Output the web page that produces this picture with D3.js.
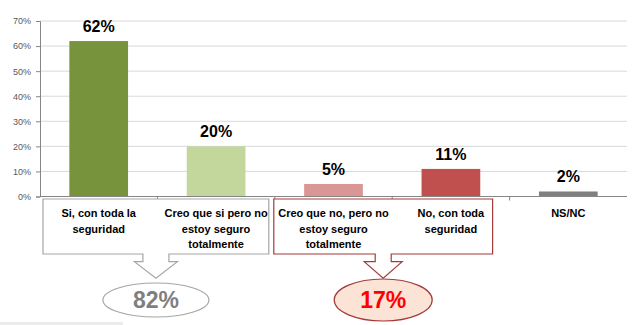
<!DOCTYPE html>
<html>
<head>
<meta charset="utf-8">
<script src="https://cdn.jsdelivr.net/npm/d3@7"></script>
<style>
  html, body { margin: 0; padding: 0; background: #fff; }
  svg { display: block; font-family: "Liberation Sans", Arial, sans-serif; }
</style>
</head>
<body>
<svg id="chart" width="632" height="325"></svg>
<script>
// Survey answers and their shares (percent)
const categories = [
  ["Si, con toda la", "seguridad"],
  ["Creo que si pero no", "estoy seguro", "totalmente"],
  ["Creo que no, pero no", "estoy seguro", "totalmente"],
  ["No, con toda", "seguridad"],
  ["NS/NC"]
];
const values = [62, 20, 5, 11, 2];
const barColors = ["#77933C", "#C3D69B", "#D99694", "#C0504D", "#7F7F7F"];
const yTicks = [0, 10, 20, 30, 40, 50, 60, 70];

// Grouped totals shown below the axis (first index, last index, label)
const groups = [
  { from: 0, to: 1, label: "82%", stroke: "#A6A6A6", fill: "#FFFFFF", text: "#7F7F7F",
    inset: [3, -6], stem: 13, head: 21.5, rx: 53, ry: 17, cy: 300 },
  { from: 2, to: 3, label: "17%", stroke: "#A33B3B", fill: "#FBE3D6", text: "#FF0000",
    inset: [-1, -17], stem: 8, head: 19, rx: 49, ry: 21, cy: 300 }
];

const svg = d3.select("#chart");
const margin = { left: 40, right: 5, top: 21, bottom: 128.5 };
const W = 632, H = 325;

const x = d3.scaleBand()
  .domain(d3.range(values.length))
  .range([margin.left, W - margin.right])
  .paddingInner(0.5).paddingOuter(0.25);
const xb = d3.scaleLinear().domain([0, values.length]).range([margin.left, W - margin.right]);
const y = d3.scaleLinear().domain([0, 70]).range([H - margin.bottom, margin.top]);

// gridlines
svg.append("g").selectAll("line").data(yTicks.filter(d => d > 0)).join("line")
  .attr("x1", margin.left).attr("x2", W - margin.right)
  .attr("y1", d => y(d)).attr("y2", d => y(d))
  .attr("stroke", "#D9D9D9").attr("stroke-width", 1);

// y axis
const yAxis = svg.append("g")
  .attr("transform", `translate(${margin.left},0)`)
  .call(d3.axisLeft(y).tickValues(yTicks).tickFormat(d => d + "%").tickSize(4).tickPadding(5));
yAxis.select(".domain").attr("stroke", "#868686");
yAxis.selectAll(".tick line").attr("stroke", "#868686");
yAxis.selectAll(".tick text").attr("fill", "#595959").style("font-size", "9px")
  .style("font-family", "'Liberation Sans', Arial, sans-serif");

// bars
svg.append("g").selectAll("rect").data(values).join("rect")
  .attr("x", (d, i) => x(i)).attr("width", x.bandwidth())
  .attr("y", d => y(d)).attr("height", d => y(0) - y(d))
  .attr("fill", (d, i) => barColors[i]);

// value labels
svg.append("g").selectAll("text").data(values).join("text")
  .attr("x", (d, i) => x(i) + x.bandwidth() / 2)
  .attr("y", d => y(d) - 9)
  .attr("text-anchor", "middle")
  .attr("font-size", 16).attr("font-weight", "bold").attr("fill", "#000")
  .text(d => d + "%");

// x axis line and boundary ticks
const xg = svg.append("g");
xg.append("line").attr("x1", margin.left).attr("x2", W - margin.right)
  .attr("y1", y(0)).attr("y2", y(0)).attr("stroke", "#868686");
xg.selectAll("line.tk").data(d3.range(1, values.length)).join("line").attr("class", "tk")
  .attr("x1", d => xb(d)).attr("x2", d => xb(d))
  .attr("y1", y(0)).attr("y2", y(0) + 4).attr("stroke", "#868686");

// callout boxes with arrows and total ellipses
const boxTop = y(0) + 2.5, boxBottom = y(0) + 57.5;
const stemBottom = 261.7, tipY = 278.3;
groups.forEach(g => {
  const x0 = xb(g.from) + g.inset[0];
  const x1 = xb(g.to + 1) + g.inset[1];
  const cx = (x0 + x1) / 2;
  const p = d3.path();
  p.moveTo(x0, boxTop);
  p.lineTo(x1, boxTop);
  p.lineTo(x1, boxBottom);
  p.lineTo(cx + g.stem, boxBottom);
  p.lineTo(cx + g.stem, stemBottom);
  p.lineTo(cx + g.head, stemBottom);
  p.lineTo(cx, tipY);
  p.lineTo(cx - g.head, stemBottom);
  p.lineTo(cx - g.stem, stemBottom);
  p.lineTo(cx - g.stem, boxBottom);
  p.lineTo(x0, boxBottom);
  p.closePath();
  svg.append("path").attr("d", p.toString())
    .attr("fill", "#fff").attr("stroke", g.stroke).attr("stroke-width", 1.2);

  svg.append("ellipse").attr("cx", cx).attr("cy", g.cy).attr("rx", g.rx).attr("ry", g.ry)
    .attr("fill", g.fill).attr("stroke", g.stroke).attr("stroke-width", 1.2);
  svg.append("text").attr("x", cx).attr("y", g.cy + 8.3)
    .attr("text-anchor", "middle").attr("font-size", 23).attr("font-weight", "bold")
    .attr("fill", g.text).text(g.label);
});

// category labels
const cat = svg.append("g").selectAll("text").data(categories).join("text")
  .attr("text-anchor", "middle").attr("font-size", 11).attr("font-weight", "bold")
  .attr("fill", "#000");
cat.each(function (lines, i) {
  const t = d3.select(this);
  lines.forEach((ln, k) => {
    t.append("tspan").attr("x", x(i) + x.bandwidth() / 2).attr("y", 217 + k * 15.5).text(ln);
  });
});

// page strip at bottom-left
svg.append("rect").attr("x", 0).attr("y", 322).attr("width", 123).attr("height", 3).attr("fill", "#EBEBEB");
</script>
</body>
</html>
